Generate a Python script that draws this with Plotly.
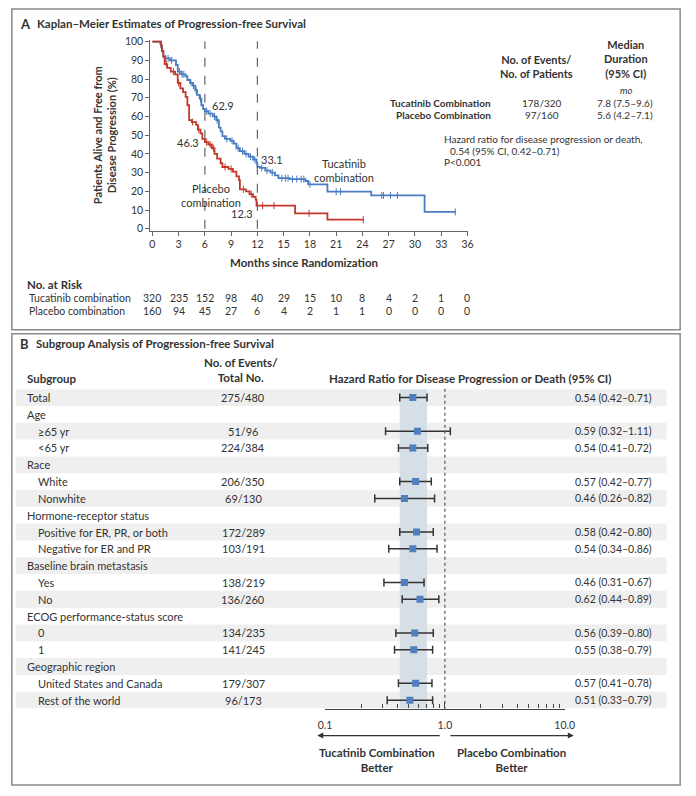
import numpy as np
import plotly.graph_objects as go

W, H = 696, 796
FONT = "Lato, 'Open Sans', sans-serif"
DARK = "#333333"
BLUE = "#4a7cc0"
RED = "#c0392b"

# ---------------- Panel A data ----------------
tuc_t = [0, 0.9, 1.0, 1.1, 1.25, 1.5, 2.0, 2.7, 2.9, 3.3, 3.8, 4.0, 4.3, 4.6, 4.9, 5.1, 5.4, 5.6,
         5.8, 6.0, 6.4, 6.9, 7.3, 7.6, 7.8, 8.0, 8.3, 8.9, 9.3, 9.6, 10.0, 10.5, 11.0, 11.5, 11.9,
         12.0, 12.3, 12.9, 13.5, 14.0, 14.4, 15.7, 17.5, 17.8, 20.0, 25.0, 31.1]
tuc_s = [100, 99, 97, 95, 92, 91, 90, 87.5, 84, 82.5, 81.5, 79.5, 78, 76.5, 74, 71.5, 69.5, 66,
         64, 62.9, 61.5, 60, 58, 54, 52, 49.5, 48, 47, 45.5, 43, 41.5, 40, 38.5, 37, 35,
         33.1, 32.5, 31, 30, 28.5, 27, 26.5, 25.5, 23.7, 19.8, 17.8, 9.0]
tuc_end = 34.7
pla_t = [0, 1.0, 1.1, 1.25, 1.4, 1.7, 2.1, 2.6, 2.9, 3.2, 3.5, 3.8, 4.0, 4.2, 4.5, 5.0, 5.2, 5.5,
         5.7, 6.0, 6.4, 6.8, 7.1, 7.4, 7.8, 8.0, 8.7, 9.2, 9.6, 9.9, 10.0, 10.7, 11.1, 11.5, 11.8,
         11.9, 16.3, 20.0]
pla_s = [100, 98, 95, 92, 88, 86, 84, 82.5, 78, 75, 73, 70.5, 66, 58, 57, 55.5, 53, 51,
         48, 46.3, 45, 43, 40, 37.5, 35, 33, 32, 30.5, 28, 26, 21, 20, 18.5, 17, 15.5,
         12.3, 8.2, 4.9]
pla_end = 24.1
tuc_cens = [1.5, 1.8, 2.2, 3.1, 3.4, 3.6, 4.4, 4.7, 5.0, 5.5, 6.2, 6.6, 7.1, 7.4, 8.5, 9.1, 9.8,
            10.3, 10.7, 11.2, 11.7, 12.5, 13.1, 13.7, 14.8, 15.2, 15.5, 16.0, 16.5, 17.0, 17.3,
            18.0, 21.0, 21.5, 26.2, 26.4, 27.2, 28.0, 34.6]
pla_cens = [1.6, 2.4, 3.0, 4.6, 5.3, 6.2, 6.6, 7.0, 8.3, 9.0, 10.4, 11.3, 12.6, 13.9, 17.9, 24.1]
risk_months = [0, 3, 6, 9, 12, 15, 18, 21, 24, 27, 30, 33, 36]
risk_tuc = [320, 235, 152, 98, 40, 29, 15, 10, 8, 4, 2, 1, 0]
risk_pla = [160, 94, 45, 27, 6, 4, 2, 1, 1, 0, 0, 0, 0]
landmarks = [6, 12]
landmark_tuc = [62.9, 33.1]
landmark_pla = [46.3, 12.3]
y_ticks = [0, 10, 20, 30, 40, 50, 60, 70, 80, 90, 100]

# ---------------- Panel B data ----------------
subgroups = ["Total", "Age", "≥65 yr", "<65 yr", "Race", "White", "Nonwhite",
             "Hormone-receptor status", "Positive for ER, PR, or both", "Negative for ER and PR",
             "Baseline brain metastasis", "Yes", "No", "ECOG performance-status score", "0", "1",
             "Geographic region", "United States and Canada", "Rest of the world"]
indented = [False, False, True, True, False, True, True, False, True, True, False, True, True,
            False, True, True, False, True, True]
events = ["275/480", "", "51/96", "224/384", "", "206/350", "69/130", "", "172/289", "103/191",
          "", "138/219", "136/260", "", "134/235", "141/245", "", "179/307", "96/173"]
hr = [0.54, None, 0.59, 0.54, None, 0.57, 0.46, None, 0.58, 0.54, None, 0.46, 0.62, None,
      0.56, 0.55, None, 0.57, 0.51]
lo = [0.42, None, 0.32, 0.41, None, 0.42, 0.26, None, 0.42, 0.34, None, 0.31, 0.44, None,
      0.39, 0.38, None, 0.41, 0.33]
hi = [0.71, None, 1.11, 0.72, None, 0.77, 0.82, None, 0.80, 0.86, None, 0.67, 0.89, None,
      0.80, 0.79, None, 0.78, 0.79]
overall_ci = (0.42, 0.71)
hr_ticks = [0.1, 1.0, 10.0]
hr_ticktext = ["0.1", "1.0", "10.0"]


def px(x):
    return x / W


def py(y):
    return 1 - y / H


def step_value(t, s, at):
    idx = np.searchsorted(np.array(t), np.array(at), side="right") - 1
    return np.array(s)[idx]


fig = go.Figure()

# KM curves
for t, s, end, col, cens in [(tuc_t, tuc_s, tuc_end, BLUE, tuc_cens),
                             (pla_t, pla_s, pla_end, RED, pla_cens)]:
    fig.add_trace(go.Scatter(x=list(t) + [end], y=list(s) + [s[-1]], mode="lines",
                             line=dict(color=col, width=1.8, shape="hv"),
                             xaxis="x", yaxis="y", showlegend=False, hoverinfo="skip"))
    fig.add_trace(go.Scatter(x=cens, y=step_value(t, s, cens), mode="markers",
                             marker=dict(symbol="line-ns", size=5, line=dict(color=col, width=1)),
                             xaxis="x", yaxis="y", showlegend=False, hoverinfo="skip"))

# Forest plot
rows = [i for i, v in enumerate(hr) if v is not None]
hr_v = np.array([hr[i] for i in rows])
lo_v = np.array([lo[i] for i in rows])
hi_v = np.array([hi[i] for i in rows])
fig.add_trace(go.Scatter(x=hr_v, y=rows, mode="markers",
                         marker=dict(symbol="square", size=7, color="#4f7fbf"),
                         error_x=dict(type="data", array=hi_v - hr_v, arrayminus=hr_v - lo_v,
                                      color="#333333", thickness=1.5, width=4),
                         xaxis="x2", yaxis="y2", showlegend=False, hoverinfo="skip"))

shapes = []
# frames
shapes.append(dict(type="rect", xref="paper", yref="paper", x0=px(5), x1=px(690), y0=py(329), y1=py(5),
                   line=dict(color="#8a8a8a", width=1.5)))
shapes.append(dict(type="rect", xref="paper", yref="paper", x0=px(5), x1=px(690), y0=py(789), y1=py(333),
                   line=dict(color="#8a8a8a", width=1.5)))
# landmark dashed lines
for m in landmarks:
    shapes.append(dict(type="line", xref="x", yref="y", x0=m, x1=m, y0=0, y1=100,
                       line=dict(color="#666666", width=1.2, dash="dash")))
# forest bands
for i in range(len(subgroups)):
    if i % 2 == 0:
        shapes.append(dict(type="rect", xref="paper", yref="y2", x0=px(9), x1=px(676),
                           y0=i - 0.5, y1=i + 0.5, fillcolor="#efefef", line=dict(width=0),
                           layer="below"))
shapes.append(dict(type="rect", xref="x2", yref="y2", x0=overall_ci[0], x1=overall_ci[1],
                   y0=-0.5, y1=len(subgroups) - 0.5, fillcolor="#d6dee6", line=dict(width=0),
                   layer="below"))
shapes.append(dict(type="line", xref="x2", yref="paper", x0=1, x1=1, y0=py(713), y1=py(386),
                   line=dict(color="#555555", width=1.2, dash="dot")))

ann = []


def T(x, y, text, size=11, xanchor="center", bold=False, color=DARK, xref="paper", yref="paper",
      italic=False, yanchor="middle"):
    if bold:
        text = "<b>" + text + "</b>"
    if italic:
        text = "<i>" + text + "</i>"
    ann.append(dict(x=x, y=y, xref=xref, yref=yref, text=text, showarrow=False,
                    xanchor=xanchor, yanchor=yanchor, font=dict(size=size, color=color, family=FONT)))


# Panel A titles
T(px(11), py(20), "A", size=13, xanchor="left", bold=True)
T(px(29), py(20), "Kaplan–Meier Estimates of Progression-free Survival", size=11.5, xanchor="left", bold=True)
ann.append(dict(x=px(100), y=py(133), xref="paper", yref="paper", showarrow=False, textangle=-90,
                text="<b>Patients Alive and Free from<br>Disease Progression (%)</b>",
                font=dict(size=11, color=DARK, family=FONT), xanchor="center", yanchor="middle"))
T(px(304), py(261), "Months since Randomization", size=11.5, bold=True)

# landmark labels
T(px(208), py(103), f"{landmark_tuc[0]}", size=11, xanchor="left")
T(px(199), py(140), f"{landmark_pla[0]}", size=11, xanchor="right")
T(px(258), py(157), f"{landmark_tuc[1]}", size=11, xanchor="left")
T(px(254), py(212), f"{landmark_pla[1]}", size=11, xanchor="right")
T(px(209), py(193), "Placebo<br>combination", size=11)
T(px(345), py(168), "Tucatinib<br>combination", size=11)

# legend table
T(px(543), py(63), "No. of Events/<br>No. of Patients", size=11, bold=True)
T(px(635), py(56), "Median<br>Duration<br>(95% CI)", size=11, bold=True)
T(px(635), py(87), "mo", size=9.5, italic=True)
T(px(498), py(100), "Tucatinib Combination", size=10, bold=True, xanchor="right")
T(px(498), py(112), "Placebo Combination", size=10, bold=True, xanchor="right")
T(px(548), py(100), "178/320", size=10)
T(px(548), py(112), "97/160", size=10)
T(px(633), py(100), "7.8 (7.5–9.6)", size=10)
T(px(633), py(112), "5.6 (4.2–7.1)", size=10)
T(px(446), py(136), "Hazard ratio for disease progression or death,", size=10, xanchor="left")
T(px(452), py(148), "0.54 (95% CI, 0.42–0.71)", size=10, xanchor="left")
T(px(446), py(160), "P<0.001", size=10, xanchor="left")

# at risk table
T(px(18), py(283), "No. at Risk", size=11.5, bold=True, xanchor="left")
T(px(20), py(297), "Tucatinib combination", size=10.5, xanchor="left")
T(px(20), py(310), "Placebo combination", size=10.5, xanchor="left")
for m, a, b in zip(risk_months, risk_tuc, risk_pla):
    T(m, py(297), str(a), size=10.5, xref="x")
    T(m, py(310), str(b), size=10.5, xref="x")

# Panel B headers
T(px(11), py(343), "B", size=13, xanchor="left", bold=True)
T(px(28), py(343), "Subgroup Analysis of Progression-free Survival", size=11.5, xanchor="left", bold=True)
T(px(18), py(378), "Subgroup", size=11.5, bold=True, xanchor="left")
T(px(240), py(370), "No. of Events/<br>Total No.", size=11.5, bold=True)
T(px(475), py(378), "Hazard Ratio for Disease Progression or Death (95% CI)", size=11.5, bold=True)

for i, name in enumerate(subgroups):
    T(px(30) if indented[i] else px(18), i, name, size=11, xanchor="left", yref="y2")
    if events[i]:
        T(px(242), i, events[i], size=11, yref="y2")
    if hr[i] is not None:
        T(px(663), i, f"{hr[i]:.2f} ({lo[i]:.2f}–{hi[i]:.2f})", size=10.5, xanchor="right", yref="y2")

# arrows
ann.append(dict(x=px(318), y=py(739), xref="paper", yref="paper", ax=124, ay=0, text="",
                showarrow=True, arrowhead=2, arrowsize=1, arrowwidth=1.2, arrowcolor=DARK))
ann.append(dict(x=px(581), y=py(739), xref="paper", yref="paper", ax=-125, ay=0, text="",
                showarrow=True, arrowhead=2, arrowsize=1, arrowwidth=1.2, arrowcolor=DARK))
T(px(379), py(764), "Tucatinib Combination<br>Better", size=11.5, bold=True)
T(px(517), py(764), "Placebo Combination<br>Better", size=11.5, bold=True)

fig.update_layout(
    width=W, height=H, margin=dict(l=0, r=0, t=0, b=0),
    paper_bgcolor="white", plot_bgcolor="rgba(0,0,0,0)",
    font=dict(family=FONT, color=DARK, size=11),
    shapes=shapes, annotations=ann,
    xaxis=dict(domain=[px(147), px(473)], range=[-0.223, 36.11], anchor="y",
               tickvals=risk_months, ticks="outside", ticklen=4, tickcolor="#666",
               showline=True, linecolor="#666", linewidth=1.2, showgrid=False, zeroline=False,
               tickfont=dict(size=10.5, color=DARK)),
    yaxis=dict(domain=[py(229), py(36)], range=[-1.06, 101.06], anchor="x",
               tickvals=y_ticks, ticks="outside", ticklen=4, tickcolor="#666",
               showline=True, linecolor="#666", linewidth=1.2, showgrid=False, zeroline=False,
               tickfont=dict(size=10.5, color=DARK)),
    xaxis2=dict(domain=[px(326), px(571.7)], type="log", range=[-1, 1], anchor="y2",
                tickvals=hr_ticks, ticktext=hr_ticktext, ticks="inside", ticklen=6, tickcolor="#444",
                ticklabelstandoff=7,
                showline=True, linecolor="#444", linewidth=1.2, showgrid=False, zeroline=False,
                tickfont=dict(size=10.5, color=DARK),
                minor=dict(tickvals=[0.2, 0.3, 0.4, 0.5, 0.6, 0.7, 0.8, 0.9, 2, 3, 4, 5, 6, 7, 8, 9],
                           ticks="inside", ticklen=4, tickcolor="#444", showgrid=False)),
    yaxis2=dict(domain=[py(711.7), py(389.04)], range=[len(subgroups) - 0.5, -0.5], anchor="x2",
                visible=False),
)

fig.write_html("out.html", config={"displayModeBar": False},
               post_script="document.body.style.margin='0';document.body.style.padding='0';"
                           "document.documentElement.style.overflow='hidden';")
